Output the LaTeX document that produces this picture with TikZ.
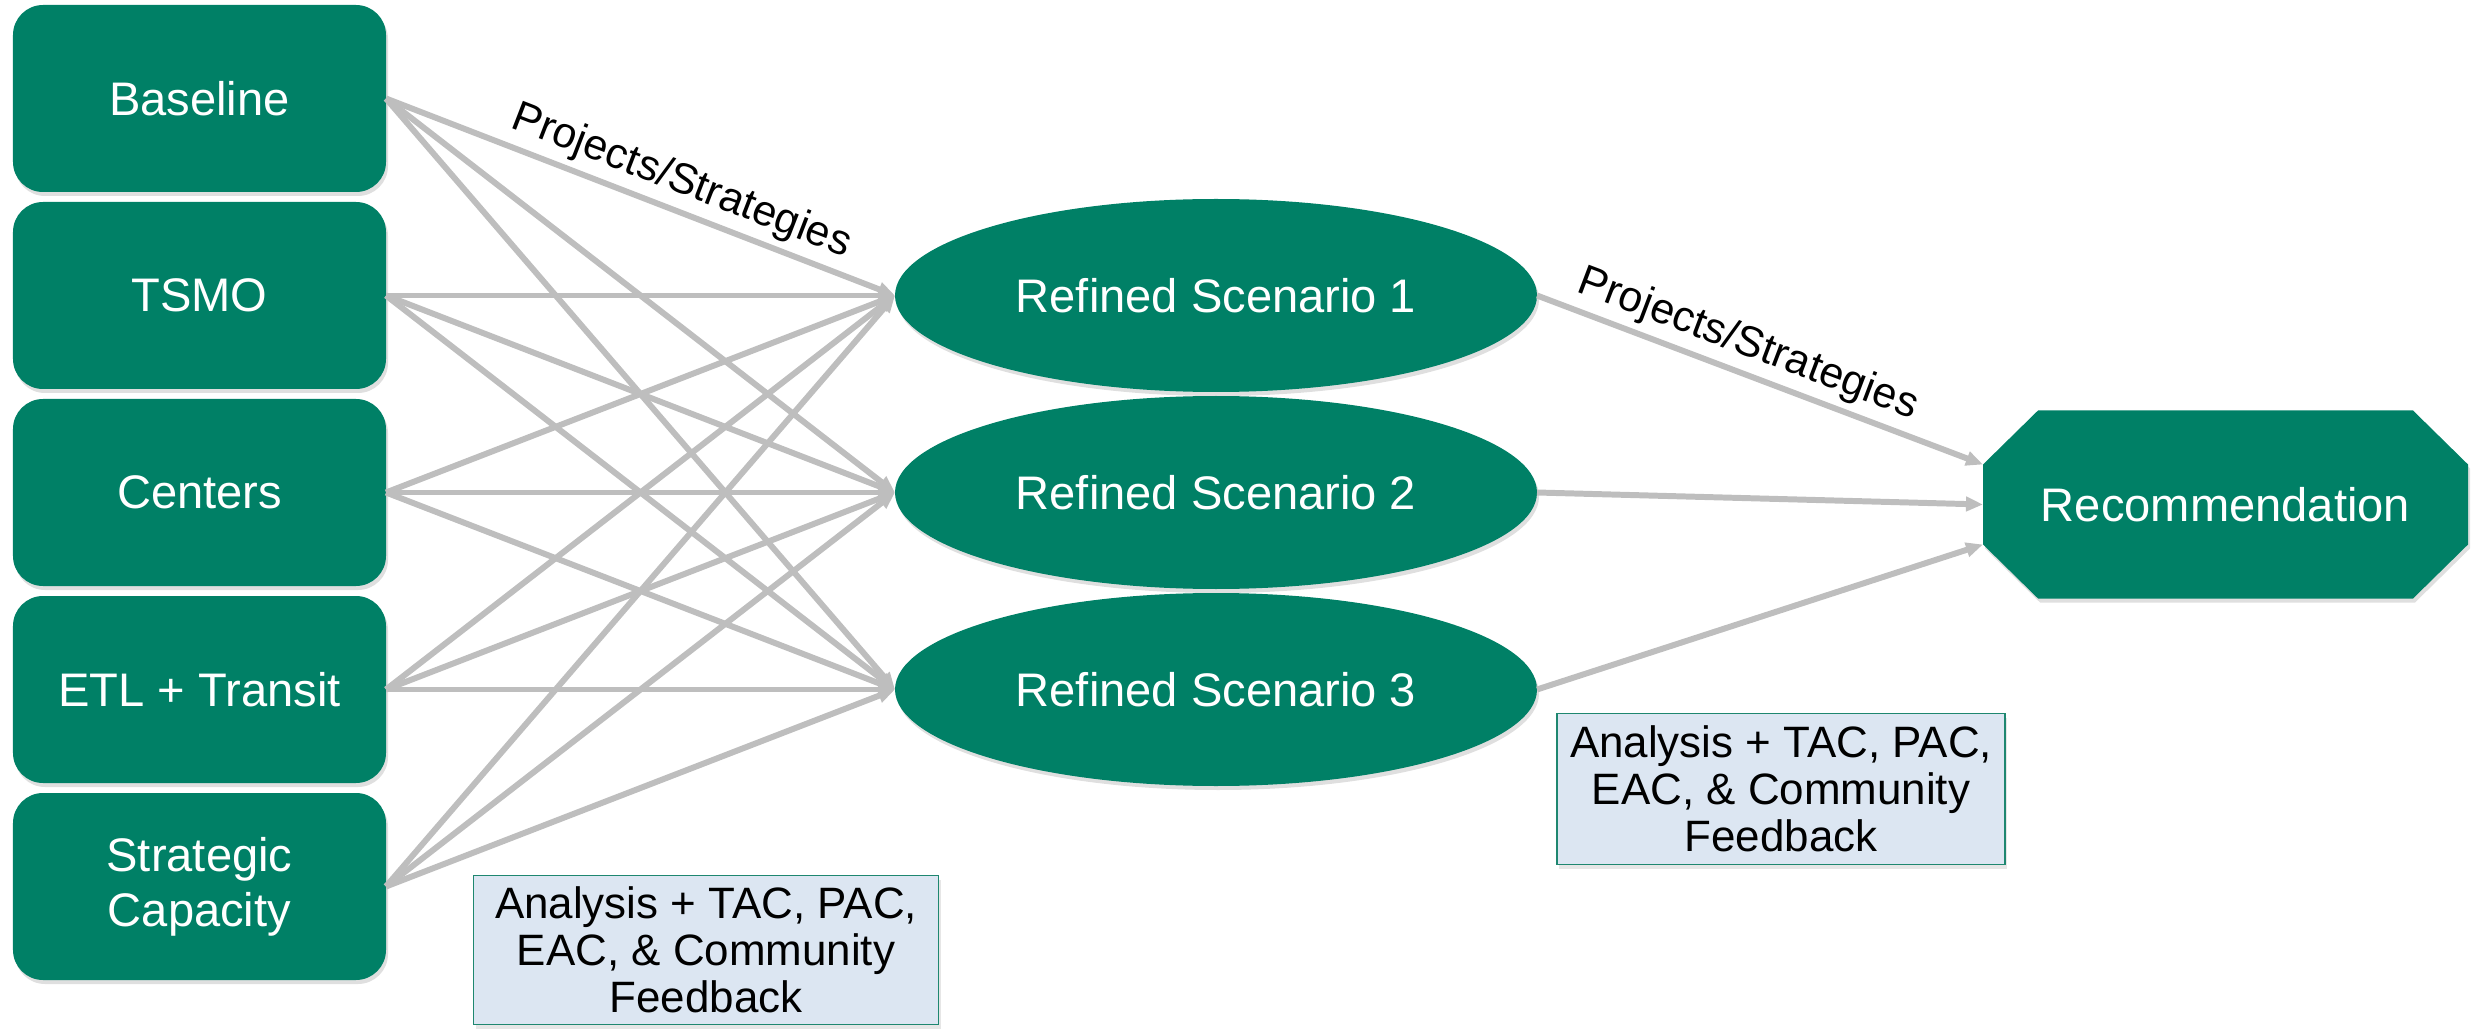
\documentclass[tikz,border=0pt]{standalone}
\usepackage{fontspec}
\setsansfont{Liberation Sans}
\usetikzlibrary{positioning,shapes.geometric,arrows.meta,shadows,backgrounds}
\definecolor{mygreen}{RGB}{0,128,102}
\definecolor{mygrey}{RGB}{190,190,190}
\definecolor{mylightblue}{RGB}{220,230,242}
\definecolor{myteal}{RGB}{30,135,112}

\begin{document}
\begin{tikzpicture}[
    node distance=0.1cm,outer sep=0pt,
    greentext/.style={align=center, font={\sffamily\fontsize{13.4}{15.6}\selectfont\color{white}}},
    greenshape/.style={greentext, fill=mygreen, draw=none,
                       drop shadow={shadow xshift=0.02cm, shadow yshift=-0.04cm, opacity=0.25}},
    choice/.style={greenshape, rounded corners=0.3cm, minimum width=3.73cm, minimum height=1.87cm},
    scen/.style={greenshape, ellipse, minimum width=6.42cm, minimum height=1.93cm},
    recbox/.style={greentext, minimum width=4.85cm, minimum height=1.88cm},
    feedback/.style={draw=myteal, fill=mylightblue, align=center, inner sep=2pt,
                     font={\sffamily\fontsize{12.5}{13.4}\selectfont},
                     drop shadow={shadow xshift=0.02cm, shadow yshift=-0.04cm, opacity=0.2}},
    link/.style={draw=mygrey, line width=1.7pt, -{Triangle[length=0.17cm, width=0.14cm]}},
    linklabel/.style={font={\sffamily\fontsize{12.2}{14}\selectfont}, sloped, above, inner sep=2.5pt},]

    \useasboundingbox (0,0) rectangle (24.71,-10.31);

    % left column
    \node[choice] (baseline) at (1.995,-0.985) {Baseline};
    \node[choice, below=of baseline] (tsmo) {TSMO};
    \node[choice, below=of tsmo] (centers) {Centers};
    \node[choice, below=of centers] (etl) {ETL + Transit};
    \node[choice, below=of etl] (strat) {Strategic\\ Capacity};

    % scenarios
    \node[scen, right=5.09cm of tsmo] (s1) {Refined Scenario 1};
    \node[scen, right=5.09cm of centers] (s2) {Refined Scenario 2};
    \node[scen, right=5.09cm of etl] (s3) {Refined Scenario 3};

    % recommendation (octagon drawn behind the text)
    \node[recbox, right=4.46cm of s2, yshift=-0.12cm] (rec) {Recommendation};
    \begin{scope}[on background layer]
      \fill[mygreen, drop shadow={shadow xshift=0.02cm, shadow yshift=-0.04cm, opacity=0.25}]
        ([xshift=0.55cm]rec.north west) -- ([xshift=-0.55cm]rec.north east)
        -- ([yshift=-0.54cm]rec.north east) -- ([yshift=0.54cm]rec.south east)
        -- ([xshift=-0.55cm]rec.south east) -- ([xshift=0.55cm]rec.south west)
        -- ([yshift=0.54cm]rec.south west) -- ([yshift=-0.54cm]rec.north west) -- cycle;
    \end{scope}

    % feedback notes
    \node[feedback, minimum width=4.65cm, minimum height=1.49cm] (fb1) at (7.06,-9.5)
        {Analysis + TAC, PAC,\\ EAC, \& Community\\ Feedback};
    \node[feedback, minimum width=4.48cm, minimum height=1.51cm, below right=0.24cm and 0.2cm of s3.east] (fb2)
        {Analysis + TAC, PAC,\\ EAC, \& Community\\ Feedback};

    % connectors
    \foreach \src in {baseline,tsmo,centers,etl,strat}
      \foreach \dst in {s1,s2,s3}
        \draw[link] (\src.east) -- (\dst.west);
    \path (baseline.east) -- (s1.west) node[linklabel, pos=0.56] {Projects/Strategies};

    \draw[link] (s1.east) -- ([yshift=0.4cm]rec.west) node[linklabel, pos=0.45] {Projects/Strategies};
    \draw[link] (s2.east) -- (rec.west);
    \draw[link] (s3.east) -- ([yshift=-0.4cm]rec.west);

\end{tikzpicture}
\end{document}
